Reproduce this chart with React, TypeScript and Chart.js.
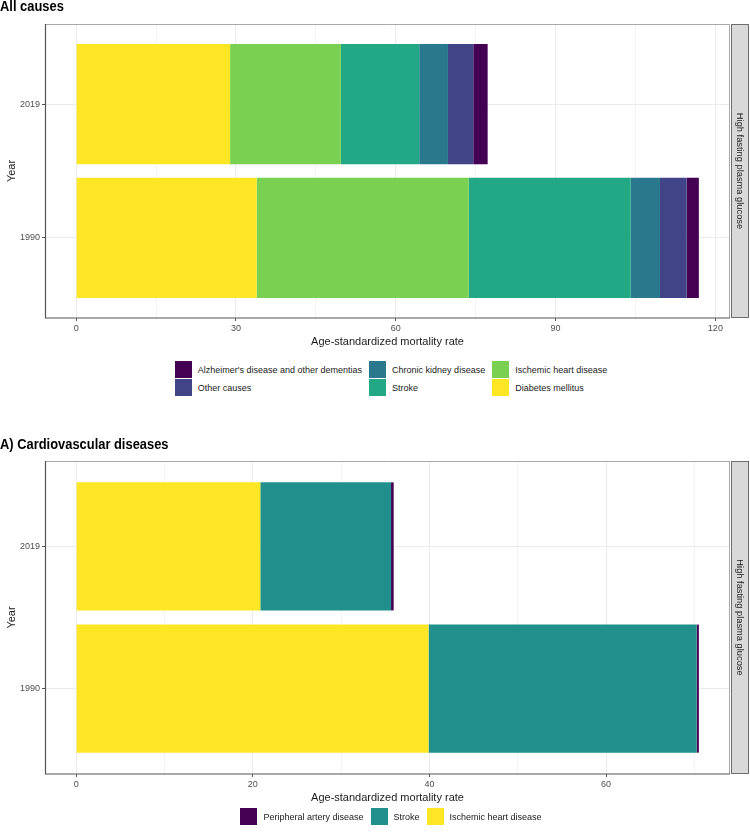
import React, { useEffect, useRef } from "react";
import { Chart, registerables } from "chart.js";

Chart.register(...registerables);

// ---------- DATA ----------
// Year index on the (linear) category axis: 1 = 1990, 2 = 2019
const yearLabels = ["1990", "2019"];
const yearIndex = [1, 2];

// Panel 1: All causes (stack order, left to right)
const allCauseNames = [
  "Diabetes mellitus",
  "Ischemic heart disease",
  "Stroke",
  "Chronic kidney disease",
  "Other causes",
  "Alzheimer's disease and other dementias",
];
const allCauseColors = ["#FDE725", "#7AD151", "#22A884", "#2A788E", "#414487", "#440154"];
// values as [1990, 2019]
const diabetesMellitus = [33.9, 28.9];
const ischemicHeartAll = [39.8, 20.8];
const strokeAll = [30.4, 14.7];
const chronicKidney = [5.5, 5.4];
const otherCauses = [5.0, 4.75];
const alzheimers = [2.3, 2.7];
const allCauseValues = [diabetesMellitus, ischemicHeartAll, strokeAll, chronicKidney, otherCauses, alzheimers];
const allCauseTicks = [0, 15, 30, 45, 60, 75, 90, 105, 120];
const allCauseMajor = 30;

// Panel 2: Cardiovascular diseases
const cvdNames = ["Ischemic heart disease", "Stroke", "Peripheral artery disease"];
const cvdColors = ["#FDE725", "#21908C", "#440154"];
const ischemicHeartCvd = [39.9, 20.85];
const strokeCvd = [30.35, 14.8];
const peripheralArtery = [0.25, 0.3];
const cvdValues = [ischemicHeartCvd, strokeCvd, peripheralArtery];
const cvdTicks = [0, 10, 20, 30, 40, 50, 60, 70];
const cvdMajor = 20;

const stripLabel = "High fasting plasma glucose";
const xTitle = "Age-standardized mortality rate";
const yTitle = "Year";

const FONT = "'Liberation Sans', Arial, Helvetica, sans-serif";

const panelPlugin = {
  id: "panelDeco",
  afterDraw(chart: any) {
    const { ctx, chartArea: a } = chart;
    const label = chart.options.plugins.panelDeco?.label || "";
    ctx.save();
    // top & right panel border (light)
    ctx.strokeStyle = "#a8a8a8";
    ctx.lineWidth = 1;
    ctx.beginPath();
    ctx.moveTo(a.left, a.top + 0.5);
    ctx.lineTo(a.right, a.top + 0.5);
    ctx.moveTo(a.right - 0.5, a.top);
    ctx.lineTo(a.right - 0.5, a.bottom);
    ctx.stroke();
    // left & bottom axis lines (dark)
    ctx.strokeStyle = "#555555";
    ctx.lineWidth = 1.2;
    ctx.beginPath();
    ctx.moveTo(a.left + 0.5, a.top);
    ctx.lineTo(a.left + 0.5, a.bottom);
    ctx.lineTo(a.right, a.bottom);
    ctx.stroke();
    // facet strip
    const sx = a.right + 1;
    const sw = 18;
    ctx.fillStyle = "#D9D9D9";
    ctx.fillRect(sx, a.top, sw, a.bottom - a.top);
    ctx.strokeStyle = "#6e6e6e";
    ctx.lineWidth = 1;
    ctx.strokeRect(sx + 0.5, a.top + 0.5, sw - 1, a.bottom - a.top - 1);
    ctx.translate(sx + sw / 2, (a.top + a.bottom) / 2);
    ctx.rotate(Math.PI / 2);
    ctx.font = `9.3px ${FONT}`;
    ctx.fillStyle = "#1a1a1a";
    ctx.textAlign = "center";
    ctx.textBaseline = "middle";
    ctx.fillText(label, 0, 0);
    ctx.restore();
  },
};

type PanelProps = {
  top: number;
  height: number;
  padTop: number;
  padBottom: number;
  names: string[];
  colors: string[];
  values: number[][];
  ticks: number[];
  major: number;
};

function Panel({ top, height, padTop, padBottom, names, colors, values, ticks, major }: PanelProps) {
  const ref = useRef<HTMLCanvasElement | null>(null);
  useEffect(() => {
    if (!ref.current) return;
    const totals = yearIndex.map((_, i) => values.reduce((s, v) => s + v[i], 0));
    const maxTotal = Math.max(...totals);
    const isMajor = (v: number) => Math.abs(v % major) < 1e-9;
    const chart = new Chart(ref.current, {
      type: "bar",
      data: {
        datasets: names.map((n, k) => ({
          label: n,
          data: yearIndex.map((y, i) => ({ x: values[k][i], y })),
          backgroundColor: colors[k],
          borderWidth: 0,
          categoryPercentage: 0.9,
          barPercentage: 1,
        })),
      },
      options: {
        indexAxis: "y",
        responsive: false,
        animation: false,
        layout: { padding: { top: padTop, right: 20, bottom: padBottom, left: 0 } },
        plugins: {
          legend: { display: false },
          tooltip: { enabled: false },
          panelDeco: { label: stripLabel },
        } as any,
        scales: {
          x: {
            type: "linear",
            stacked: true,
            min: -0.05 * maxTotal,
            max: 1.05 * maxTotal,
            afterBuildTicks: (s: any) => {
              s.ticks = ticks.map((v) => ({ value: v }));
            },
            afterFit: (s: any) => {
              s.height = 32;
            },
            border: { display: false },
            grid: {
              color: (c: any) => (c.tick && isMajor(c.tick.value) ? "#EBEBEB" : "#F3F3F3"),
              tickColor: (c: any) => (c.tick && isMajor(c.tick.value) ? "#555555" : "rgba(0,0,0,0)"),
              tickLength: 3,
            },
            ticks: {
              autoSkip: false,
              maxRotation: 0,
              padding: 2,
              color: "#4D4D4D",
              font: { size: 9, family: FONT },
              callback: (v: any) => (isMajor(Number(v)) ? String(v) : ""),
            },
            title: {
              display: true,
              text: xTitle,
              color: "#1a1a1a",
              font: { size: 11, family: FONT },
              padding: { top: 0, bottom: 1 },
            },
          },
          y: {
            type: "linear",
            stacked: true,
            offset: false,
            min: 0.4,
            max: 2.6,
            afterBuildTicks: (s: any) => {
              s.ticks = yearIndex.map((v) => ({ value: v }));
            },
            afterFit: (s: any) => {
              s.width = 45;
            },
            border: { display: false },
            grid: { offset: false, color: "#EBEBEB", tickColor: "#555555", tickLength: 3 },
            ticks: {
              padding: 2,
              color: "#4D4D4D",
              font: { size: 9, family: FONT },
              callback: (v: any) => yearLabels[Number(v) - 1] ?? "",
            },
            title: {
              display: true,
              text: yTitle,
              color: "#1a1a1a",
              font: { size: 11, family: FONT },
              padding: { top: 5, bottom: 0 },
            },
          },
        },
      },
      plugins: [panelPlugin],
    } as any);
    return () => chart.destroy();
  }, []);
  return (
    <canvas
      ref={ref}
      width={750}
      height={height}
      style={{ position: "absolute", left: 0, top, width: 750, height }}
    />
  );
}

function Legend({ names, colors, rows, top }: { names: string[]; colors: string[]; rows: number; top: number }) {
  // legend lists the stack in reverse order, filled column by column
  const items = names.map((n, i) => ({ n, c: colors[i] })).reverse();
  return (
    <div
      style={{
        position: "absolute",
        left: 0,
        width: 782,
        top,
        display: "flex",
        justifyContent: "center",
      }}
    >
      <div
        style={{
          display: "grid",
          gridTemplateRows: `repeat(${rows}, 17.7px)`,
          gridAutoFlow: "column",
          columnGap: 7,
        }}
      >
        {items.map((it) => (
          <div key={it.n} style={{ display: "flex", alignItems: "center" }}>
            <span
              style={{ display: "inline-block", width: 17, height: 17, background: it.c, marginRight: 6, flex: "none" }}
            />
            <span style={{ fontSize: 9, color: "#1a1a1a", whiteSpace: "nowrap", fontFamily: FONT }}>{it.n}</span>
          </div>
        ))}
      </div>
    </div>
  );
}

function Title({ text, top }: { text: string; top: number }) {
  return (
    <div
      style={{
        position: "absolute",
        left: 0,
        top,
        fontFamily: FONT,
        fontWeight: "bold",
        fontSize: 15,
        lineHeight: "15px",
        color: "#000",
        whiteSpace: "nowrap",
        transform: "scaleX(0.86)",
        transformOrigin: "left top",
      }}
    >
      {text}
    </div>
  );
}

export default function App() {
  return (
    <div
      style={{
        position: "absolute",
        left: 0,
        top: 0,
        width: 750,
        height: 834,
        background: "#fff",
        overflow: "hidden",
        fontFamily: FONT,
      }}
    >
      <Panel
        top={0}
        height={360}
        padTop={24}
        padBottom={10}
        names={allCauseNames}
        colors={allCauseColors}
        values={allCauseValues}
        ticks={allCauseTicks}
        major={allCauseMajor}
      />
      <Title text="All causes" top={-2} />
      <Legend names={allCauseNames} colors={allCauseColors} rows={2} top={361} />
      <Panel
        top={440}
        height={370}
        padTop={21}
        padBottom={4}
        names={cvdNames}
        colors={cvdColors}
        values={cvdValues}
        ticks={cvdTicks}
        major={cvdMajor}
      />
      <Title text="A) Cardiovascular diseases" top={436} />
      <Legend names={cvdNames} colors={cvdColors} rows={1} top={808} />
    </div>
  );
}
